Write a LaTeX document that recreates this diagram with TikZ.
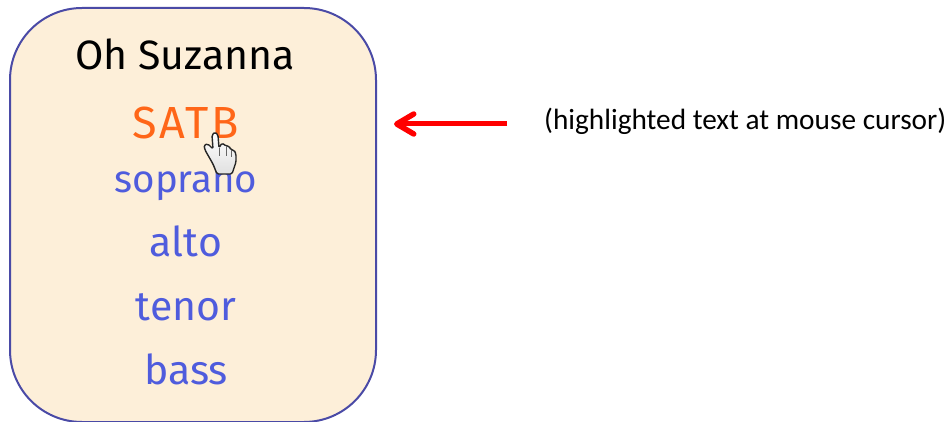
\documentclass[tikz,border=0pt]{standalone}
\usepackage{fontspec}
\setmainfont{Carlito}
\newfontfamily\comic{Fira Sans}
\newfontfamily\comicwide[LetterSpace=6]{Fira Sans}
\usetikzlibrary{arrows.meta}
\definecolor{panel}{HTML}{FDEFD9}
\definecolor{edge}{HTML}{4A4AA6}
\definecolor{linkc}{HTML}{4F5CDD}
\definecolor{hot}{HTML}{FF6618}
\tikzset{
  item/.style={font=\comic\fontsize{40}{40}\selectfont,text=linkc,inner sep=0pt,anchor=base},
}
\begin{document}
\begin{tikzpicture}[x=1pt,y=-1pt,line join=round]
\useasboundingbox (0,0) rectangle (951,422);
\node[draw=edge,line width=2pt,fill=panel,rounded corners=72pt,minimum width=366pt,minimum height=414pt,inner sep=0pt] (panel) at (193,215) {};
\node[item,text=black,font=\comic\fontsize{41}{41}\selectfont] (title) at (185,70) {Oh Suzanna};
\node[item,text=hot,font=\comicwide\fontsize{45}{45}\selectfont] (satb) at (186,139) {SATB};
\node[item,font=\comic\fontsize{38.5}{38.5}\selectfont] (sop) at (186,193) {soprano};
\node[item,font=\comic\fontsize{41}{41}\selectfont] (alto) at (186,257) {alto};
\node[item,font=\comic\fontsize{41}{41}\selectfont] (ten) at (186,320) {tenor};
\node[item,font=\comic\fontsize{41}{41}\selectfont] (bass) at (186,384) {bass};
\node[font=\fontsize{29.3}{29.3}\selectfont,anchor=base west,inner sep=0pt] (note) at (544,130) {(highlighted text at mouse cursor)};
\coordinate (tail) at (507,124);
\coordinate (tip) at (394,124);
\draw[red,line width=5pt,-{Straight Barb[length=17pt,width=20pt,line width=5.5pt,round]}] (tail) -- (tip);
% hand cursor
\draw[black!85,top color=white,bottom color=black!12,line width=1.4pt,rounded corners=1.5pt]
 (213,164) -- (205,150) -- (204,145) -- (208,144) -- (213,149) -- (212,135) -- (215,132) -- (218,135) -- (219,148)
 -- (222,143) -- (226,146) -- (229,146) -- (231,150) -- (234,150) -- (236,154) -- (236,162) -- (232,174) -- (217,174) -- cycle;
\draw[black!60,line width=0.8pt] (219,148)--(219,156) (226,146)--(226,156) (231,150)--(231,157);
\end{tikzpicture}
\end{document}
